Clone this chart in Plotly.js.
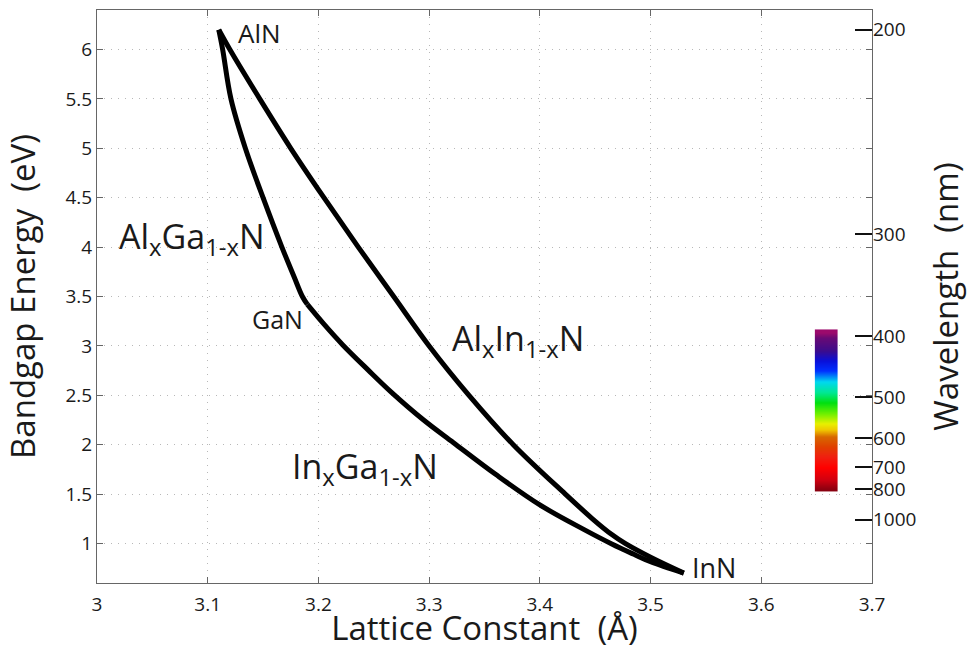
<!DOCTYPE html>
<html>
<head>
<meta charset="utf-8">
<script src="https://cdn.plot.ly/plotly-3.0.1.min.js"></script>
<style>html,body{margin:0;padding:0;background:#fff}#plot{width:968px;height:650px}</style>
</head>
<body>
<div id="plot"></div>
<script>
// Lattice constant (Å) and bandgap (eV)
const alganLattice = [3.110, 3.1135, 3.121, 3.134, 3.150, 3.167, 3.178, 3.1855, 3.190];
const alganGap     = [6.20, 6.00, 5.50, 5.00, 4.50, 4.00, 3.70, 3.50, 3.42];

const alinnLattice = [3.110, 3.120, 3.147, 3.175, 3.205, 3.236, 3.268, 3.300, 3.336, 3.376, 3.423, 3.4475, 3.465, 3.477, 3.500, 3.530];
const alinnGap     = [6.20, 6.00, 5.50, 5.00, 4.50, 4.00, 3.50, 3.00, 2.50, 2.00, 1.50, 1.25, 1.09, 1.00, 0.86, 0.70];

const inganLattice = [3.190, 3.205, 3.222, 3.245, 3.266, 3.295, 3.322, 3.360, 3.400, 3.440, 3.465, 3.485, 3.500, 3.530];
const inganGap     = [3.42, 3.22, 3.01, 2.755, 2.53, 2.25, 2.02, 1.70, 1.39, 1.14, 0.995, 0.89, 0.815, 0.70];

// Right axis: wavelength ticks (nm)
const wavelengthTicks = [200, 300, 400, 500, 600, 700, 800, 1000];

// Visible spectrum strip: wavelengths (nm) and colours
const spectrumNm = [395, 402, 420, 435, 450, 470, 490, 510, 535, 560, 575, 595, 625, 660, 700, 750, 795, 805];
const spectrumColors = ['#9c0a6c', '#6a0a74', '#3c0c8c', '#0a10d8', '#0030ff', '#00d8f0', '#00e890', '#00e010',
                        '#70f000', '#e8f000', '#f0c800', '#d86800', '#e04000', '#f02010', '#ff0000', '#d00010', '#900010', '#880010'];

const HC = 1240; // eV·nm conversion
const toEnergy = nm => HC / nm;

const font = 'Open Sans, Noto Sans, sans-serif';
const lineStyle = {color: '#000', width: 5, shape: 'spline', smoothing: 1};

const zmin = spectrumNm[0], zmax = spectrumNm[spectrumNm.length - 1];
const colorscale = spectrumNm.map((nm, i) => [(nm - zmin) / (zmax - zmin), spectrumColors[i]]);

const traces = [
  {x: alganLattice, y: alganGap, mode: 'lines', line: lineStyle, hoverinfo: 'skip', showlegend: false},
  {x: alinnLattice, y: alinnGap, mode: 'lines', line: lineStyle, hoverinfo: 'skip', showlegend: false},
  {x: inganLattice, y: inganGap, mode: 'lines', line: lineStyle, hoverinfo: 'skip', showlegend: false},
  {
    type: 'heatmap', xaxis: 'x2', yaxis: 'y',
    x: [0, 1],
    y: spectrumNm.map(toEnergy),
    z: spectrumNm.map(nm => [nm, nm]),
    zmin: zmin, zmax: zmax, colorscale: colorscale, zsmooth: 'best',
    showscale: false, hoverinfo: 'skip'
  },
  {x: [], y: [], xaxis: 'x', yaxis: 'y2', mode: 'lines', showlegend: false, hoverinfo: 'skip'}
];

const gridCol = '#b8b8b8';
const axisCol = '#666';
const tickFont = {family: font, size: 19, color: '#1a1a1a'};
const titleFont = {family: font, size: 33, color: '#1a1a1a'};

const layout = {
  width: 968, height: 650,
  margin: {l: 97, r: 96, t: 10, b: 67},
  paper_bgcolor: '#fff', plot_bgcolor: '#fff',
  font: {family: font, color: '#1a1a1a'},
  showlegend: false,
  xaxis: {
    range: [3, 3.7], dtick: 0.1, tick0: 3,
    ticks: 'inside', ticklen: 6, tickcolor: axisCol, tickwidth: 1,
    showline: true, linecolor: axisCol, linewidth: 1, mirror: 'ticks',
    showgrid: true, gridcolor: gridCol, griddash: '1px,6px', gridwidth: 1,
    zeroline: false, tickfont: tickFont, ticklabelstandoff: 4,
    title: {text: 'Lattice Constant\u00a0 (Å)', font: titleFont}
  },
  xaxis2: {domain: [0.926, 0.956], range: [0, 1], anchor: 'y', visible: false, fixedrange: true},
  yaxis: {
    range: [0.6, 6.4], dtick: 0.5, tick0: 0,
    ticks: 'inside', ticklen: 6, tickcolor: axisCol, tickwidth: 1,
    showline: true, linecolor: axisCol, linewidth: 1, mirror: 'ticks',
    showgrid: true, gridcolor: gridCol, griddash: '1px,6px', gridwidth: 1,
    zeroline: false, tickfont: tickFont,
    title: {text: 'Bandgap Energy\u00a0 (eV)', font: titleFont}
  },
  yaxis2: {
    overlaying: 'y', side: 'right', anchor: 'x',
    range: [0.6, 6.4],
    tickmode: 'array', tickvals: wavelengthTicks.map(toEnergy), ticktext: wavelengthTicks.map(String),
    ticks: 'inside', ticklen: 17, tickwidth: 2, tickcolor: '#111',
    showline: false, showgrid: false, zeroline: false, tickfont: tickFont,
    title: {text: 'Wavelength\u00a0 (nm)', font: titleFont}
  },
  annotations: [
    {x: 3.1255, y: 6.17, xref: 'x', yref: 'y', text: 'AlN', showarrow: false, xanchor: 'left', yanchor: 'middle', font: {family: font, size: 26}},
    {x: 3.188, y: 3.27, xref: 'x', yref: 'y', text: 'GaN', showarrow: false, xanchor: 'right', yanchor: 'middle', font: {family: font, size: 25}},
    {x: 3.5355, y: 0.76, xref: 'x', yref: 'y', text: 'InN', showarrow: false, xanchor: 'left', yanchor: 'middle', font: {family: font, size: 27}},
    {x: 3.018, y: 4.09, xref: 'x', yref: 'y', text: 'Al<sub>x</sub>Ga<sub>1-x</sub>N', showarrow: false, xanchor: 'left', yanchor: 'middle', font: {family: font, size: 34}},
    {x: 3.3185, y: 3.06, xref: 'x', yref: 'y', text: 'Al<sub>x</sub>In<sub>1-x</sub>N', showarrow: false, xanchor: 'left', yanchor: 'middle', font: {family: font, size: 34}},
    {x: 3.174, y: 1.76, xref: 'x', yref: 'y', text: 'In<sub>x</sub>Ga<sub>1-x</sub>N', showarrow: false, xanchor: 'left', yanchor: 'middle', font: {family: font, size: 34}}
  ]
};

Plotly.newPlot('plot', traces, layout, {displayModeBar: false, staticPlot: true});
</script>
</body>
</html>
